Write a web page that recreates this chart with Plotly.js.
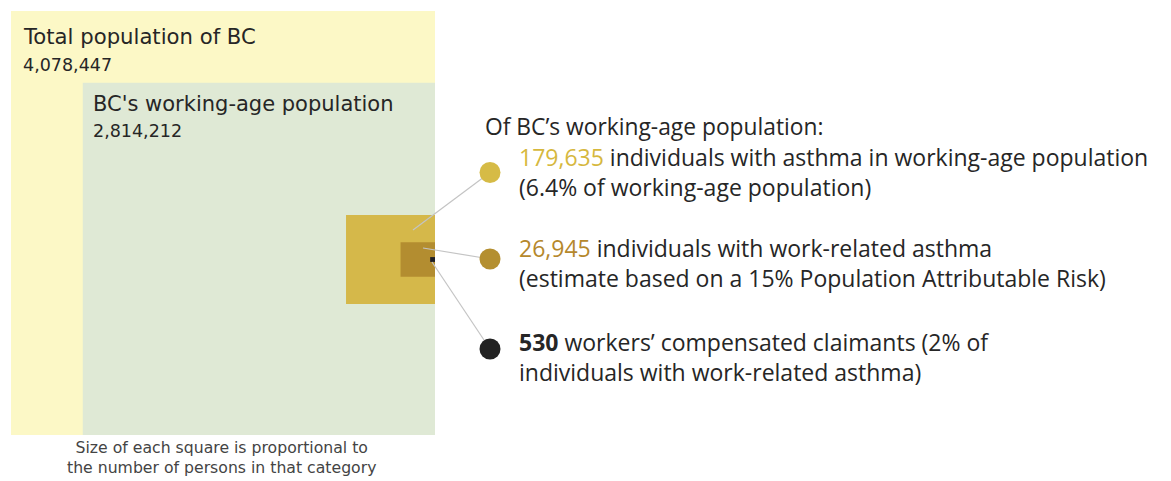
<!DOCTYPE html>
<html>
<head>
<meta charset="utf-8">
<script src="https://cdn.plot.ly/plotly-3.0.1.min.js"></script>
<style>html,body{margin:0;padding:0;background:#fff;}#chart{width:1171px;height:481px;}</style>
</head>
<body>
<div id="chart"></div>
<script>
// ---- data ----
const categories = ["Total population of BC", "BC's working-age population", "Individuals with asthma", "Work-related asthma", "Compensated claimants"];
const populations = [4078447, 2814212, 179635, 26945, 530];
const populationLabels = ["4,078,447", "2,814,212", "179,635", "26,945", "530"];
const squareColors = ["#fcf8c6", "#dfe9d5", "#d5b84a", "#b38d30", "#1f1f26"];
const detailText = [
  ["individuals with asthma in working-age population", "(6.4% of working-age population)"],
  ["individuals with work-related asthma", "(estimate based on a 15% Population Attributable Risk)"],
  ["workers\u2019 compensated claimants (2% of", "individuals with work-related asthma)"]
];

// ---- layout helpers ----
const W = 1171, H = 481;
const pxPerUnit = 424 / Math.sqrt(populations[0]); // square side = sqrt(persons)
const rightPx = 435, bottomPx = 435, smallCenterPx = 259.5;
const xr = [-rightPx / pxPerUnit, (W - rightPx) / pxPerUnit];
const yr = [-(H - bottomPx) / pxPerUnit, bottomPx / pxPerUnit];
const smallCenterY = (bottomPx - smallCenterPx) / pxPerUnit;
const px = x => x / W, py = y => 1 - y / H;

const shapes = [];
populations.forEach((v, i) => {
  const s = Math.sqrt(v);
  let y0, y1;
  if (i < 2) { y0 = 0; y1 = s; } else { y0 = smallCenterY - s / 2; y1 = smallCenterY + s / 2; }
  shapes.push({type: "rect", xref: "x", yref: "y", x0: -s, x1: 0, y0: y0, y1: y1,
    fillcolor: squareColors[i], line: {width: 0}, layer: "below"});
});
// connector lines and dots
const dots = [[490, 172.5], [490, 259], [490, 349]];
const lineStarts = [[413, 230], [423, 248], [432, 262]];
const dotColors = ["#d6bb46", "#b48f30", "#222222"];
dots.forEach((d, i) => {
  shapes.push({type: "line", xref: "paper", yref: "paper", x0: px(lineStarts[i][0]), y0: py(lineStarts[i][1]),
    x1: px(d[0]), y1: py(d[1]), line: {color: "#c4c4c4", width: 1.2}});
});
dots.forEach((d, i) => {
  const r = 10.5;
  shapes.push({type: "circle", xref: "paper", yref: "paper", x0: px(d[0] - r), x1: px(d[0] + r),
    y0: py(d[1] + r), y1: py(d[1] - r), fillcolor: dotColors[i], line: {width: 0}});
});

const leftFont = "DejaVu Sans";
const rightFont = "Open Sans";
const txt = "#262626";
function ann(text, x, y, size, family, opts) {
  return Object.assign({xref: "paper", yref: "paper", x: px(x), y: py(y), xanchor: "left", yanchor: "middle",
    text: text, showarrow: false, font: {family: family, size: size, color: txt}}, opts || {});
}
const footFont = {family: leftFont, size: 15.7, color: "#444"};
const itemSize = 23;
const annotations = [
  ann(categories[0], 21, 37, 21.2, leftFont),
  ann(populationLabels[0], 21, 65, 17.5, leftFont),
  ann(categories[1], 91, 104, 21, leftFont),
  ann(populationLabels[1], 91, 131, 17.5, leftFont),
  ann("Size of each square is proportional to<br>the number of persons in that category", 221, 457.5, 15.7, leftFont,
      {xanchor: "center", align: "center", font: footFont}),
  ann("Of BC\u2019s working-age population:", 483, 126, 22.8, rightFont),
  ann('<span style="color:#d6b83e">' + populationLabels[2] + '</span> ' + detailText[0][0] + '<br>' + detailText[0][1],
      517, 171.5, itemSize, rightFont, {align: "left"}),
  ann('<span style="color:#b5882c">' + populationLabels[3] + '</span> ' + detailText[1][0] + '<br>' + detailText[1][1],
      517, 263, itemSize, rightFont, {align: "left"}),
  ann('<b>' + populationLabels[4] + '</b> ' + detailText[2][0] + '<br>' + detailText[2][1],
      517, 356.5, itemSize, rightFont, {align: "left"})
];

Plotly.newPlot("chart", [{x: [], y: [], type: "scatter", hoverinfo: "skip", showlegend: false}], {
  width: W, height: H, margin: {l: 0, r: 0, t: 0, b: 0},
  paper_bgcolor: "#fff", plot_bgcolor: "#fff", showlegend: false,
  xaxis: {range: xr, visible: false, fixedrange: true},
  yaxis: {range: yr, visible: false, fixedrange: true},
  shapes: shapes, annotations: annotations
}, {displayModeBar: false, staticPlot: true});
</script>
</body>
</html>
